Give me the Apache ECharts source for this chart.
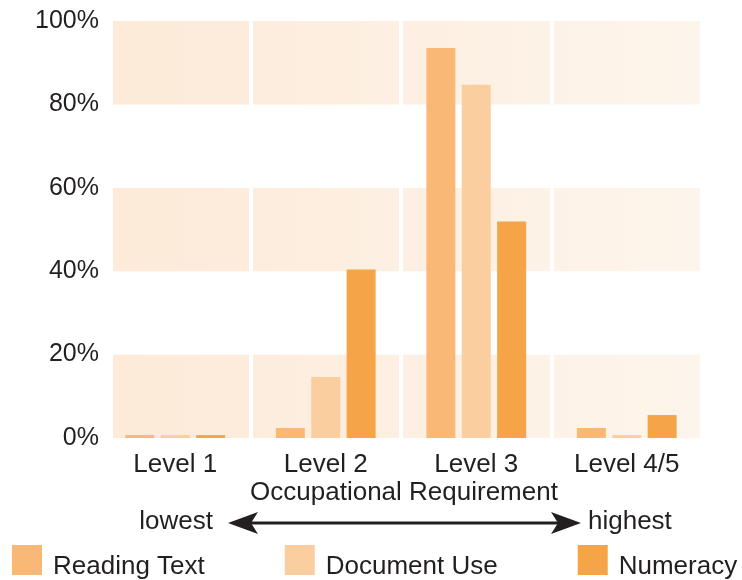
<!DOCTYPE html>
<html>
<head>
<meta charset="utf-8">
<script src="https://cdn.jsdelivr.net/npm/echarts@6/dist/echarts.min.js"></script>
<style>
  html, body { margin: 0; padding: 0; background: #ffffff; }
  #chart { width: 742px; height: 580px; }
</style>
</head>
<body>
<div id="chart"></div>
<script>
// Share of jobs by occupational requirement level, per literacy skill
const categories = ['Level 1', 'Level 2', 'Level 3', 'Level 4/5'];
const seriesNames = ['Reading Text', 'Document Use', 'Numeracy'];
const readingText = [0.7, 2.4, 93.5, 2.4];
const documentUse = [0.7, 14.6, 84.7, 0.7];
const numeracy = [0.7, 40.4, 51.9, 5.5];
const yTicks = [0, 20, 40, 60, 80, 100];

const colors = ['#FAB876', '#FBCEA0', '#F6A448'];
const textColor = '#231F20';
const font = '"Liberation Sans", Arial, Helvetica, sans-serif';

const chart = echarts.init(document.getElementById('chart'), null, { renderer: 'canvas' });

// Soft peach band that fades slightly from left to right
const bandFill = new echarts.graphic.LinearGradient(0, 0, 1, 0, [
  { offset: 0, color: '#FDEAD8' },
  { offset: 1, color: '#FDF5EC' }
]);

const seriesData = [readingText, documentUse, numeracy];

chart.setOption({
  animation: false,
  color: colors,
  textStyle: { fontFamily: font },
  grid: [
    // background banding
    { left: 113, right: 40, top: 21, bottom: 142 },
    // bars
    { left: 100, right: 40, top: 21, bottom: 142 }
  ],
  xAxis: [
    { type: 'value', gridIndex: 0, show: false, min: 0, max: 1 },
    {
      type: 'category', gridIndex: 1, data: categories, z: 1,
      axisLine: { show: false }, axisTick: { show: false },
      axisLabel: { color: textColor, fontSize: 26, fontFamily: font, margin: 14 },
      // white gutters between the level columns
      splitLine: {
        show: true,
        interval: (index) => index > 0,
        lineStyle: { color: '#ffffff', width: 4 }
      }
    }
  ],
  yAxis: [
    {
      type: 'value', gridIndex: 0, min: 0, max: 100, interval: 20, z: 0,
      axisLine: { show: false }, axisTick: { show: false },
      splitLine: { show: false },
      splitArea: { show: true, areaStyle: { color: [bandFill, '#ffffff'] } },
      axisLabel: {
        color: textColor, fontSize: 25, fontFamily: font, margin: 14,
        padding: [6, 0, 0, 0],
        formatter: v => (yTicks.includes(v) ? v + '%' : '')
      }
    },
    { type: 'value', gridIndex: 1, min: 0, max: 100, interval: 20, show: false }
  ],
  legend: {
    left: 12, top: 545, padding: 0,
    itemWidth: 30, itemHeight: 30, itemGap: 80,
    icon: 'rect',
    data: seriesNames,
    formatter: name => '{t|' + name + '}',
    textStyle: {
      color: textColor, fontSize: 26, fontFamily: font, padding: [0, 0, 0, 6],
      rich: { t: { color: textColor, fontSize: 26, fontFamily: font, padding: [14, 0, 0, 0] } }
    }
  },
  series: seriesNames.map((name, i) => ({
    name,
    type: 'bar',
    xAxisIndex: 1, yAxisIndex: 1,
    barWidth: 29,
    barGap: '22%',
    z: 3,
    data: seriesData[i]
  })),
  graphic: [
    {
      type: 'text', x: 404, y: 493,
      style: { text: 'Occupational Requirement', fill: textColor, font: '26px ' + font, align: 'center', verticalAlign: 'middle' }
    },
    {
      type: 'text', x: 213, y: 522,
      style: { text: 'lowest', fill: textColor, font: '26px ' + font, align: 'right', verticalAlign: 'middle' }
    },
    {
      type: 'text', x: 588, y: 522,
      style: { text: 'highest', fill: textColor, font: '26px ' + font, align: 'left', verticalAlign: 'middle' }
    },
    {
      type: 'line',
      shape: { x1: 250, y1: 523, x2: 560, y2: 523 },
      style: { stroke: textColor, lineWidth: 3 }
    },
    {
      type: 'polygon',
      shape: { points: [[228, 523], [258, 512], [251, 523], [258, 534]] },
      style: { fill: textColor }
    },
    {
      type: 'polygon',
      shape: { points: [[581, 523], [551, 512], [558, 523], [551, 534]] },
      style: { fill: textColor }
    }
  ]
});
</script>
</body>
</html>
